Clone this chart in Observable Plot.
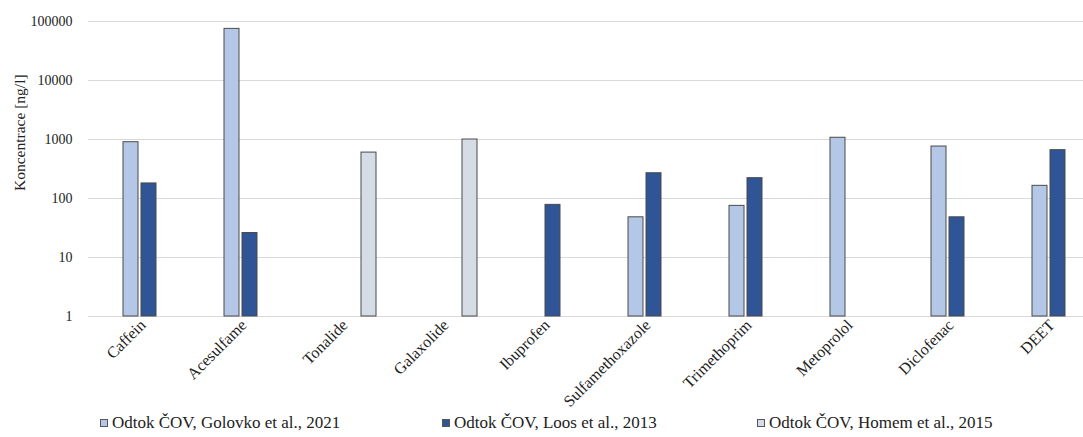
<!DOCTYPE html>
<html>
<head>
<meta charset="utf-8">
<script src="https://cdn.jsdelivr.net/npm/d3@7"></script>
<script src="https://cdn.jsdelivr.net/npm/@observablehq/plot@0.6"></script>
<style>
  html, body { margin: 0; padding: 0; background: #fff; }
  body { width: 1083px; height: 437px; overflow: hidden; font-family: "Liberation Serif", "Times New Roman", Times, "DejaVu Serif", "Noto Serif", serif; }
  #legend { position: relative; height: 27px; font-size: 17px; color: #222; }
  .item { position: absolute; top: 3px; display: flex; align-items: center; white-space: nowrap; }
  .sw { width: 8px; height: 8px; border: 1px solid #555; margin-right: 4px; box-sizing: border-box; }
</style>
</head>
<body>
<div id="chart"></div>
<div id="legend"></div>
<script>
const categories = ["Caffein","Acesulfame","Tonalide","Galaxolide","Ibuprofen","Sulfamethoxazole","Trimethoprim","Metoprolol","Diclofenac","DEET"];
const golovko = [900, 75000, null, null, null, 48, 75, 1070, 760, 164];
const loos    = [180, 26, null, null, 78, 268, 221, null, 48, 660];
const homem   = [null, null, 600, 1000, null, null, null, null, null, null];
const seriesNames = ["Odtok ČOV, Golovko et al., 2021", "Odtok ČOV, Loos et al., 2013", "Odtok ČOV, Homem et al., 2015"];
const seriesColors = ["#b4c7e7", "#2f5597", "#d6dce5"];
const yTicks = [1, 10, 100, 1000, 10000, 100000];

const seriesValues = [golovko, loos, homem];
const rows = (vals) => categories.map((c, i) => ({cat: c, v: vals[i]})).filter(d => d.v != null);

const insets = [[25, 61], [43, 43], [61, 25]];
const FONT = "'Liberation Serif', 'Times New Roman', Times, 'DejaVu Serif', 'Noto Serif', serif";

const marks = [
  Plot.gridY(yTicks, {stroke: "#d9d9d9", strokeOpacity: 1, strokeWidth: 1.2}),
  Plot.ruleY([1], {stroke: "#d9d9d9", strokeWidth: 1.2}),
  ...seriesValues.map((vals, k) => Plot.barY(rows(vals), {
    x: "cat", y1: 1, y2: "v",
    fill: seriesColors[k], stroke: "#4a4a4a", strokeWidth: 1,
    insetLeft: insets[k][0], insetRight: insets[k][1]
  })),
  Plot.axisY(yTicks, {tickSize: 0, tickPadding: 16, tickFormat: d3.format("d"), fontSize: 14, label: null, fill: "#222"}),
  Plot.axisX({tickSize: 0, tickPadding: 6, tickRotate: -45, dx: -6, fontSize: 16, label: null, fill: "#222"}),
  Plot.text(["Koncentrace [ng/l]"], {frameAnchor: "left", rotate: -90, dx: -68, dy: 22, fontSize: 15.5, fill: "#222", text: d => d})
];

const chart = Plot.plot({
  width: 1083,
  height: 410,
  marginTop: 21,
  marginBottom: 94,
  marginLeft: 88,
  marginRight: 0,
  style: {fontFamily: FONT, background: "#fff", overflow: "visible"},
  x: {type: "band", domain: categories, range: [97, 1108], padding: 0, axis: null},
  y: {type: "log", domain: [1, 100000], axis: null},
  marks
});
document.getElementById("chart").appendChild(chart);

const legend = document.getElementById("legend");
const legendX = [100, 442, 757];
seriesNames.forEach((n, k) => {
  const it = document.createElement("div");
  it.className = "item";
  it.style.left = legendX[k] + "px";
  const sw = document.createElement("span");
  sw.className = "sw";
  sw.style.background = seriesColors[k];
  it.appendChild(sw);
  it.appendChild(document.createTextNode(n));
  legend.appendChild(it);
});
</script>
</body>
</html>
